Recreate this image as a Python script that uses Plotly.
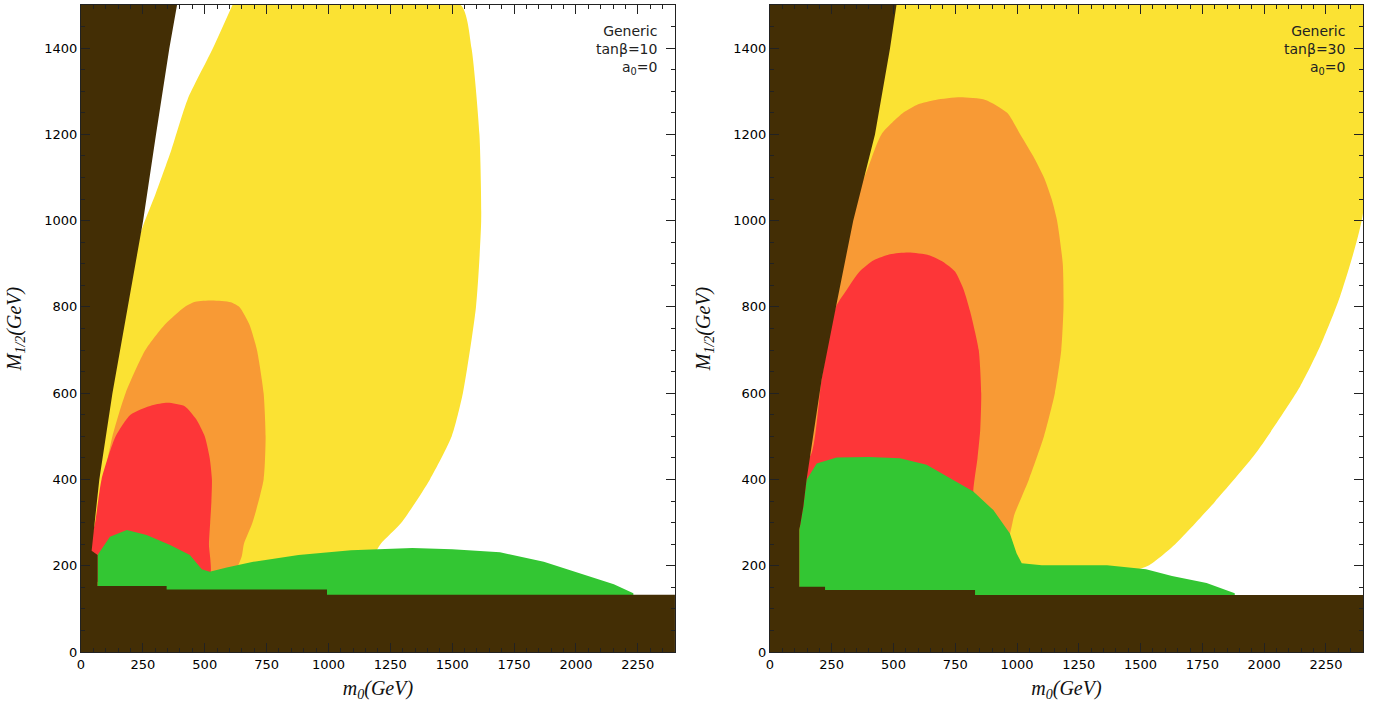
import plotly.graph_objects as go

# ---------------- data (m0, M1/2 in GeV) ----------------
x_ticks = [0, 250, 500, 750, 1000, 1250, 1500, 1750, 2000, 2250]
y_ticks = [0, 200, 400, 600, 800, 1000, 1200, 1400]

# Left panel: tan(beta)=10
L_yellow_x = [606, 1000, 1534, 1578, 1610, 1617, 1596, 1543, 1498, 1410, 1295, 1210, 1150, 700, 0, 0, 200, 252, 300, 365, 430, 530, 612]
L_yellow_y = [1500, 1510, 1500, 1400, 1200, 1000, 800, 600, 500, 400, 300, 250, 200, 170, 150, 500, 900, 990, 1060, 1164, 1280, 1396, 1500]
L_orange_x = [419, 462, 530, 605, 640, 680, 711, 738, 746, 738, 693, 658, 649, 600, 20, 20, 57, 69, 92, 127, 180, 260, 340, 419]
L_orange_y = [800, 812, 815, 811, 800, 760, 700, 600, 500, 400, 300, 250, 221, 170, 170, 240, 250, 300, 400, 500, 600, 700, 760, 800]
L_red_x = [287, 350, 419, 465, 500, 520, 529, 527, 522, 517, 517, 30, 30, 57, 83, 140, 200, 287]
L_red_y = [572, 578, 570, 540, 500, 450, 400, 350, 300, 250, 170, 170, 233, 300, 400, 500, 550, 572]
L_green_x = [67, 67, 117, 185, 265, 360, 440, 488, 520, 589, 696, 879, 1091, 1339, 1500, 1693, 1870, 2011, 2153, 2232, 2232, 67]
L_green_y = [100, 225, 267, 283, 271, 248, 225, 192, 186, 196, 209, 225, 236, 241, 238, 231, 209, 183, 157, 136, 100, 100]
L_brown_x = [0, 2400, 2400, 994, 994, 346, 346, 67, 67, 43, 74, 127, 189, 251, 303, 357, 388, 0]
L_brown_y = [0, 0, 133, 133, 145, 145, 153, 153, 225, 235, 400, 600, 800, 1000, 1200, 1400, 1500, 1500]

# Right panel: tan(beta)=30
R_yellow_x = [500, 2400, 2400, 2307, 2226, 2145, 1965, 1800, 1640, 1530, 1400, 1000, 0, 0, 500]
R_yellow_y = [1500, 1500, 1018, 824, 708, 615, 460, 348, 250, 200, 180, 180, 150, 1500, 1500]
R_orange_x = [670, 770, 872, 960, 1013, 1065, 1109, 1140, 1162, 1185, 1188, 1179, 1153, 1109, 1048, 990, 950, 200, 200, 381, 451, 539, 600, 670]
R_orange_y = [1280, 1286, 1280, 1250, 1200, 1150, 1100, 1050, 1000, 900, 800, 700, 600, 500, 400, 320, 250, 250, 900, 1100, 1200, 1250, 1270, 1280]
R_red_x = [486, 560, 644, 700, 749, 784, 810, 845, 855, 851, 840, 823, 823, 100, 100, 162, 209, 267, 311, 363, 420, 486]
R_red_y = [922, 926, 920, 905, 882, 840, 790, 700, 600, 515, 450, 376, 300, 300, 450, 453, 631, 800, 840, 882, 908, 922]
R_green_x = [119, 119, 135, 148, 189, 270, 400, 526, 634, 742, 823, 904, 971, 998, 1019, 1100, 1364, 1522, 1627, 1767, 1881, 1881, 119]
R_green_y = [100, 283, 337, 399, 437, 451, 452, 449, 434, 399, 372, 329, 275, 229, 206, 201, 201, 192, 176, 160, 136, 100, 100]
R_brown_x = [0, 2400, 2400, 830, 830, 223, 223, 119, 119, 135, 148, 162, 209, 267, 337, 425, 486, 512, 0]
R_brown_y = [0, 0, 132, 132, 144, 144, 151, 151, 283, 337, 399, 453, 631, 800, 1000, 1200, 1400, 1500, 1500]

panel_labels = ["Generic<br>tan\u03b2=10<br>a<sub>0</sub>=0",
                "Generic<br>tan\u03b2=30<br>a<sub>0</sub>=0"]

# ---------------- styling ----------------
C_YELLOW = "#FBE233"
C_ORANGE = "#F89A35"
C_RED = "#FD3638"
C_GREEN = "#33C633"
C_BROWN = "#432E05"

fig = go.Figure()

panels = [
    ("x", "y", [(L_yellow_x, L_yellow_y, C_YELLOW, "spline"), (L_orange_x, L_orange_y, C_ORANGE, "spline"),
                (L_red_x, L_red_y, C_RED, "spline"), (L_green_x, L_green_y, C_GREEN, "linear"),
                (L_brown_x, L_brown_y, C_BROWN, "linear")]),
    ("x2", "y2", [(R_yellow_x, R_yellow_y, C_YELLOW, "spline"), (R_orange_x, R_orange_y, C_ORANGE, "spline"),
                  (R_red_x, R_red_y, C_RED, "spline"), (R_green_x, R_green_y, C_GREEN, "linear"),
                  (R_brown_x, R_brown_y, C_BROWN, "linear")]),
]
for xa, ya, regions in panels:
    for xs, ys, col, shape in regions:
        fig.add_trace(go.Scatter(x=xs, y=ys, xaxis=xa, yaxis=ya, mode="lines",
                                 fill="toself", fillcolor=col,
                                 line=dict(width=0, color=col, shape=shape, smoothing=0.6),
                                 hoverinfo="skip", showlegend=False))

tick_font = dict(family="DejaVu Sans", size=13, color="#000")
title_font = dict(family="Liberation Serif", size=20, color="#111")

def xax(domain, anchor):
    return dict(domain=domain, anchor=anchor, range=[0, 2400], tickvals=x_ticks,
                ticks="inside", ticklen=9, tickcolor="#222", showline=True, linecolor="#222",
                linewidth=1, mirror="allticks", showgrid=False, zeroline=False,
                minor=dict(ticks="inside", dtick=50, ticklen=4, tickcolor="#222", showgrid=False),
                tickfont=tick_font,
                title=dict(text="<i>m<sub>0</sub>(GeV)</i>", font=title_font, standoff=10))

def yax(anchor):
    return dict(domain=[0, 1], anchor=anchor, range=[0, 1500], tickvals=y_ticks,
                ticks="inside", ticklen=9, tickcolor="#222", showline=True, linecolor="#222",
                linewidth=1, mirror="allticks", showgrid=False, zeroline=False,
                minor=dict(ticks="inside", dtick=50, ticklen=4, tickcolor="#222", showgrid=False),
                tickfont=tick_font,
                title=dict(text="<i>M<sub>1/2</sub>(GeV)</i>", font=title_font, standoff=17))

fig.update_layout(
    width=1374, height=711,
    margin=dict(l=81, r=11, t=5, b=59),
    paper_bgcolor="white", plot_bgcolor="white",
    xaxis=xax([0, 0.4633], "y"),
    yaxis=yax("x"),
    xaxis2=xax([0.5374, 1], "y2"),
    yaxis2=yax("x2"),
)

ann_font = dict(family="DejaVu Sans", size=14, color="#222")
for xr, yr, txt in [("x", "y", panel_labels[0]), ("x2", "y2", panel_labels[1])]:
    fig.add_annotation(x=2335, y=1462, xref=xr, yref=yr, text=txt, showarrow=False,
                       xanchor="right", yanchor="top", align="right", font=ann_font)

fig.write_html("out.html", config={"displayModeBar": False},
               post_script="document.body.style.margin='0';")
